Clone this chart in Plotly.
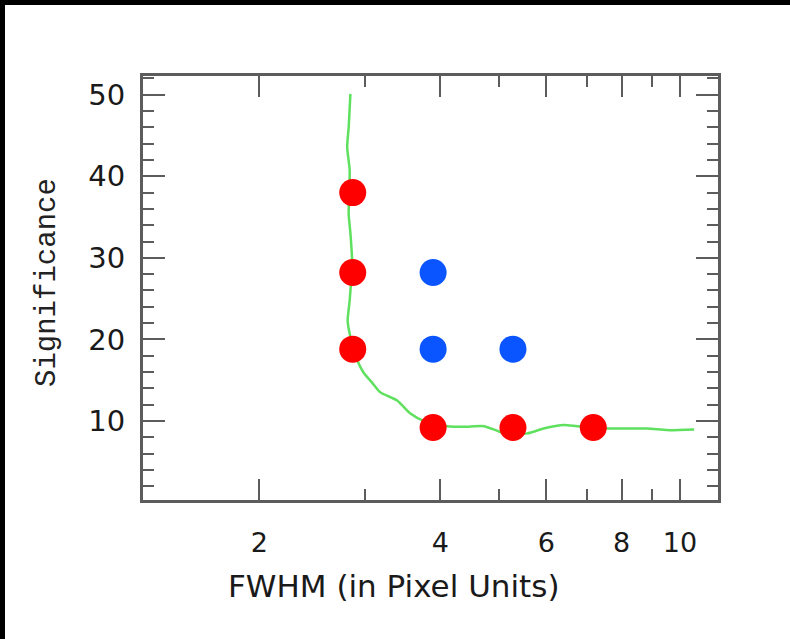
import plotly.graph_objects as go
import math

# ---- data ----
curve_x = [2.835, 2.816, 2.80, 2.827, 2.816, 2.835, 2.853, 2.827, 2.805, 2.827,
           2.908, 2.982, 3.08, 3.18, 3.39, 3.566, 3.753, 4.107, 4.375, 4.723,
           4.94, 5.093, 5.577, 5.937, 6.417, 6.754, 7.674, 8.834, 9.537, 10.56]
curve_y = [50.1, 46.0, 43.6, 40.7, 35.4, 33.0, 29.6, 24.8, 22.3, 20.7,
           17.5, 15.9, 14.7, 13.5, 12.5, 10.9, 10.0, 9.35, 9.27, 9.35,
           8.87, 8.5, 8.47, 9.07, 9.5, 9.35, 9.07, 9.07, 8.87, 8.95]

red_x = [2.86, 2.86, 2.86, 3.89, 5.28, 7.18]
red_y = [38.0, 28.2, 18.8, 9.2, 9.2, 9.2]

blue_x = [3.89, 3.89, 5.28]
blue_y = [28.2, 18.8, 18.8]

x_tickvals = [2, 4, 6, 8, 10]
x_ticktext = ["2", "4", "6", "8", "10"]
x_minorvals = [3, 5, 7, 9]
y_tickvals = [10, 20, 30, 40, 50]

W, H = 790, 639
L, R, T, B = 143, 72, 76, 139
pw, ph = W - L - R, H - T - B

def px_to_paper_x(px):
    return (px - L) / pw

def px_to_paper_y(py):
    return (H - B - py) / ph

axis_col = "#5c5c5c"

fig = go.Figure()
fig.add_trace(go.Scatter(x=curve_x, y=curve_y, mode="lines",
                         line=dict(color="#5fe05f", width=2.5, shape="spline", smoothing=0.6),
                         hoverinfo="skip"))
fig.add_trace(go.Scatter(x=blue_x, y=blue_y, mode="markers",
                         marker=dict(color="#0a55ff", size=27, line=dict(width=0))))
fig.add_trace(go.Scatter(x=red_x, y=red_y, mode="markers",
                         marker=dict(color="#ff0000", size=27, line=dict(width=0))))

fig.update_layout(
    width=W, height=H,
    margin=dict(l=L, r=R, t=T, b=B, pad=0),
    paper_bgcolor="white", plot_bgcolor="white",
    showlegend=False,
    xaxis=dict(
        type="log",
        range=[math.log10(1.282), math.log10(11.57)],
        tickmode="array", tickvals=x_tickvals, ticktext=x_ticktext,
        ticks="inside", ticklen=21, tickwidth=2, tickcolor=axis_col,
        minor=dict(tickmode="array", tickvals=x_minorvals, ticks="inside",
                   ticklen=11, tickwidth=2, tickcolor=axis_col, showgrid=False),
        showline=True, linecolor=axis_col, linewidth=3, mirror="ticks",
        showgrid=False, zeroline=False,
        tickfont=dict(family="DejaVu Sans", size=27, color="#1a1a1a"),
        ticklabelstandoff=17,
    ),
    yaxis=dict(
        range=[0.3, 52.3],
        tickmode="array", tickvals=y_tickvals,
        ticks="inside", ticklen=22, tickwidth=2, tickcolor=axis_col,
        minor=dict(tickmode="linear", tick0=0, dtick=2, ticks="inside",
                   ticklen=11, tickwidth=2, tickcolor=axis_col, showgrid=False),
        showline=True, linecolor=axis_col, linewidth=3, mirror="ticks",
        showgrid=False, zeroline=False,
        tickfont=dict(family="DejaVu Sans", size=29, color="#1a1a1a"),
        ticklabelstandoff=9,
    ),
    annotations=[
        dict(text="FWHM (in Pixel Units)", xref="paper", yref="paper",
             x=px_to_paper_x(394), y=px_to_paper_y(586),
             xanchor="center", yanchor="middle", showarrow=False,
             font=dict(family="DejaVu Sans", size=31, color="#1a1a1a")),
        dict(text="Significance", xref="paper", yref="paper",
             x=px_to_paper_x(47), y=px_to_paper_y(282), textangle=-90,
             xanchor="center", yanchor="middle", showarrow=False,
             font=dict(family="Liberation Mono", size=29, color="#222222")),
    ],
    shapes=[
        dict(type="rect", xref="paper", yref="paper",
             x0=px_to_paper_x(-10), x1=px_to_paper_x(800),
             y0=px_to_paper_y(5), y1=px_to_paper_y(-10),
             fillcolor="black", line=dict(width=0), layer="above"),
        dict(type="rect", xref="paper", yref="paper",
             x0=px_to_paper_x(-10), x1=px_to_paper_x(5),
             y0=px_to_paper_y(650), y1=px_to_paper_y(-10),
             fillcolor="black", line=dict(width=0), layer="above"),
    ],
)

fig.write_html("out.html")
